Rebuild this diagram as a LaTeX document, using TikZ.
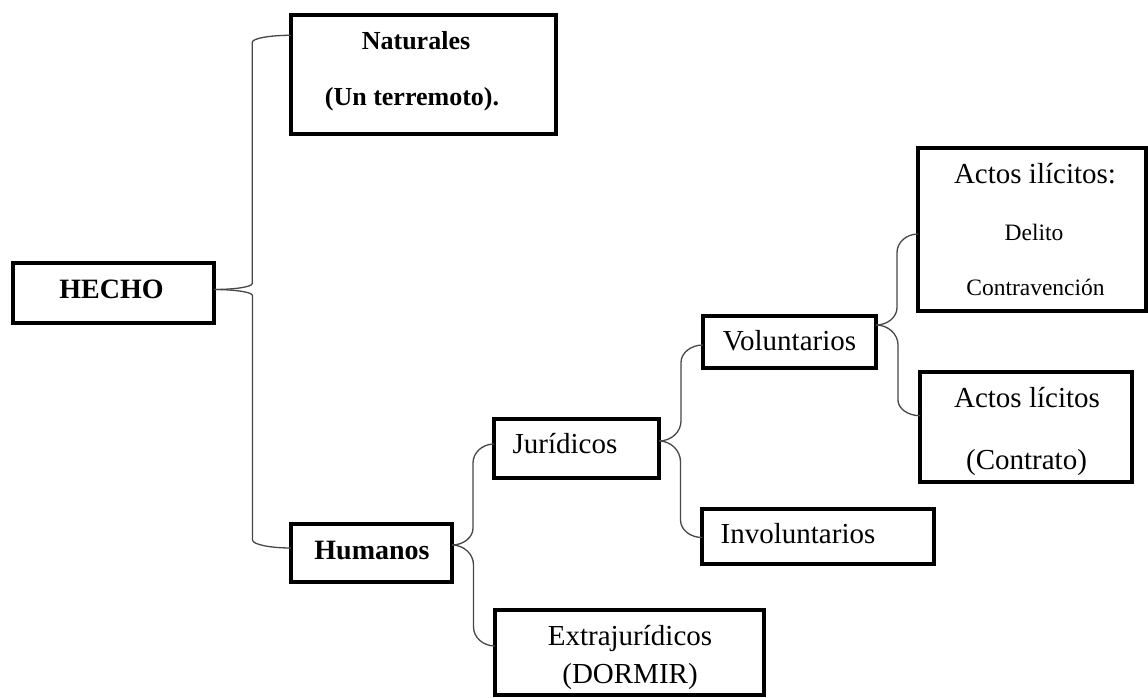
\documentclass[tikz,border=0pt]{standalone}
\usepackage{fontspec}
\setmainfont{Liberation Serif}
\usetikzlibrary{calc}
\begin{document}
\begin{tikzpicture}[x=1pt,y=-1pt,
  box/.style={draw=black, line width=4pt, rectangle, inner sep=0pt, outer sep=0pt},
  lbl/.style={anchor=base, inner sep=0pt, font=\fontsize{29}{32}\selectfont},
  lbln/.style={anchor=base, inner sep=0pt, font=\fontsize{26}{30}\selectfont\bfseries},
  lblb/.style={anchor=base, inner sep=0pt, font=\fontsize{28}{32}\selectfont\bfseries},
  lbls/.style={anchor=base, inner sep=0pt, font=\fontsize{23.5}{28}\selectfont},
  conn/.style={draw=black!72, line width=1.3pt},
  % one arm of a curly brace: tip -> spine (half way) -> target
  arm/.style 2 args={to path={
    let \p1=(\tikztostart), \p2=(\tikztotarget),
        \p3=($(\tikztostart)!0.5!(\tikztotarget)$),
        \n2={sign(\y2-\y1)}
    in .. controls ({\x1+0.55*(\x3-\x1)},\y1) and (\x3,{\y1+\n2*0.45*#1}) .. (\x3,{\y1+\n2*#1})
    -- (\x3,{\y2-\n2*#2})
    .. controls (\x3,{\y2-\n2*0.45*#2}) and ({\x2-0.55*(\x2-\x3)},\y2) .. (\x2,\y2)}}]
\useasboundingbox (0,0) rectangle (1148,698);

% boxes
\node[box, minimum width=201pt, minimum height=60pt]  (hecho)         at (113.5,293)  {};
\node[box, minimum width=265pt, minimum height=119pt] (naturales)     at (423,74.5)   {};
\node[box, minimum width=161pt, minimum height=58pt]  (humanos)       at (371.5,553)  {};
\node[box, minimum width=165pt, minimum height=59pt]  (juridicos)     at (576.5,448.5){};
\node[box, minimum width=269pt, minimum height=85pt]  (extra)         at (629.5,652.5){};
\node[box, minimum width=173pt, minimum height=52pt]  (voluntarios)   at (789.5,342)  {};
\node[box, minimum width=232pt, minimum height=55pt]  (involuntarios) at (818,536.5)  {};
\node[box, minimum width=228pt, minimum height=163pt] (ilicitos)      at (1032,229.5) {};
\node[box, minimum width=212pt, minimum height=110pt] (licitos)       at (1026,427)   {};

% texts
\node[lbln] (t-nat1) at (416,49.3) {Naturales};
\node[lbln] (t-nat2) at (412,106) {(Un terremoto).};
\node[lblb] (t-hecho) at (111.5,298.3) {HECHO};
\node[lblb] (t-hum) at (372,559) {Humanos};
\node[lbl]  (t-jur) at (565,453.4) {Jurídicos};
\node[lbl]  (t-ext1) at (630,645.6) {Extrajurídicos};
\node[lbl]  (t-ext2) at (630,683) {(DORMIR)};
\node[lbl]  (t-vol) at (789.5,350.5) {Voluntarios};
\node[lbl]  (t-inv) at (798,543.7) {Involuntarios};
\node[lbl]  (t-ili) at (1035,183.3) {Actos ilícitos:};
\node[lbls] (t-del) at (1034,240) {Delito};
\node[lbls] (t-con) at (1035.5,295) {Contravención};
\node[lbl]  (t-lic1) at (1027,407.8) {Actos lícitos};
\node[lbl]  (t-lic2) at (1026.5,469) {(Contrato)};

% braces
\draw[conn] ($(hecho.east)+(0,-3.5)$) to[arm={6}{7}] ($(naturales.north west)+(0,20.3)$);
\draw[conn] ($(hecho.east)+(0,-3.5)$) to[arm={6}{8}] ($(humanos.west)+(0,-5)$);

\draw[conn] ($(humanos.east)+(0,-8)$) to[arm={17}{19}] ($(juridicos.west)+(0,-4.5)$);
\draw[conn] ($(humanos.east)+(0,-8)$) to[arm={20}{19}] ($(extra.west)+(0,-6.5)$);

\draw[conn] ($(juridicos.east)+(0,-7.5)$) to[arm={20}{17.5}] ($(voluntarios.west)+(0,3)$);
\draw[conn] ($(juridicos.east)+(0,-7.5)$) to[arm={21}{17.5}] ($(involuntarios.west)+(0,1)$);

\draw[conn] ($(voluntarios.east)+(0,-17)$) to[arm={17.4}{18.6}] ($(ilicitos.west)+(0,4.5)$);
\draw[conn] ($(voluntarios.east)+(0,-17)$) to[arm={20}{15.7}] ($(licitos.west)+(0,-11.3)$);
\end{tikzpicture}
\end{document}
